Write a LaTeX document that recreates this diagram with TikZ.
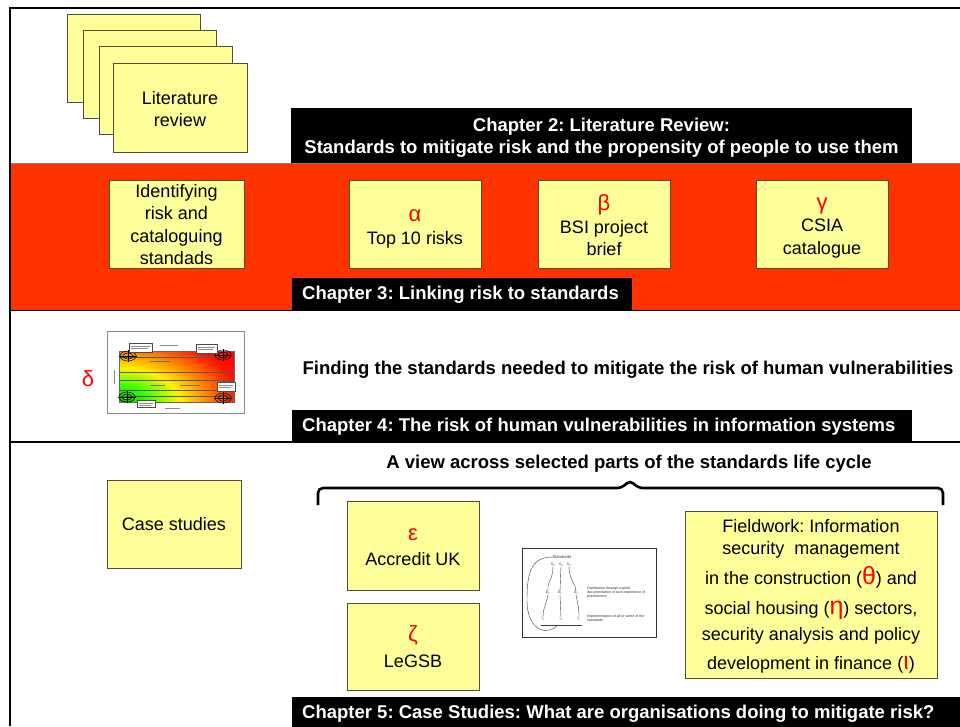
\documentclass[tikz,border=0pt]{standalone}
\usepackage{fontspec}
\setmainfont{Liberation Sans}
\definecolor{bandred}{HTML}{FF3300}
\definecolor{boxyellow}{HTML}{FFFF99}
\definecolor{boxedge}{HTML}{4F4F3A}
\definecolor{gkred}{HTML}{FF0000}
\definecolor{figedge}{HTML}{8A8A8A}
\newcommand{\gk}[2][22]{{\color{gkred}\fontsize{#1}{#1}\selectfont #2}}
% warm glow of the risk chart: green at the origin, red far from it
\pgfdeclareradialshading{riskglow}{\pgfpoint{0bp}{0bp}}{%
  color(0bp)=(green!75!black); color(5bp)=(green!75!yellow); color(10bp)=(yellow!90!orange);
  color(15bp)=(orange); color(20bp)=(red!85!orange); color(25bp)=(red); color(50bp)=(red)}
\begin{document}
\frenchspacing
\begin{tikzpicture}[x=1pt,y=-1pt,
  ybox/.style={draw=boxedge, line width=1.1pt, fill=boxyellow, inner sep=0pt,
    align=center, anchor=north west, font=\fontsize{18}{22.5}\selectfont},
  boxtext/.style={inner sep=0pt, align=center, font=\fontsize{18}{22.5}\selectfont},
  chapbar/.style={fill=black, inner sep=0pt, anchor=north west},
  chaptext/.style={text=white, inner sep=0pt, anchor=west,
    font=\fontsize{18.5}{22}\selectfont\bfseries},
  headline/.style={inner sep=0pt, font=\fontsize{18.5}{22}\selectfont\bfseries},
  figframe/.style={draw=figedge, line width=0.9pt, fill=white, inner sep=0pt, anchor=north west},
  tinytext/.style={inner sep=0pt, font=\fontsize{3.6}{4}\selectfont, text=black!80, align=left},
  target/.style={draw=black, line width=0.5pt},
  divider/.style={draw=black, line width=1.5pt}
]
\useasboundingbox (0,0) rectangle (960,726);
\fill[white] (0,0) rectangle (960,726);

% ---- section backgrounds and frame ----
\fill[bandred] (11,163.5) rectangle (960,310);
\draw[gray, line width=0.8pt] (11,163.5) -- (960,163.5);
\draw[divider] (11,310.5) -- (960,310.5);
\draw[divider] (11,442) -- (960,442);
\draw[line width=2.6pt] (10,726) -- (10,8) -- (960,8);

% ---- Chapter 2 ----
\node[ybox, minimum width=133, minimum height=88] (lit1) at (67,14) {};
\node[ybox, minimum width=133, minimum height=88] (lit2) at (83,30) {};
\node[ybox, minimum width=133, minimum height=88] (lit3) at (99,46) {};
\node[ybox, minimum width=134, minimum height=89] (lit4) at (113,63) {};
\node[boxtext] (littext) at (180,109) {Literature\\review};
\node[chapbar, minimum width=621, minimum height=55] (ch2) at (291,108) {};
\node[chaptext, anchor=center, align=center] (ch2text) at (601.5,137.5)
  {Chapter 2: Literature Review:\\Standards to mitigate risk and the propensity of people to use them};

% ---- Chapter 3 ----
\node[ybox, minimum width=135, minimum height=88] (idrisk) at (109,180) {};
\node[boxtext] (idrisktext) at (176.5,224.5) {Identifying\\risk and\\cataloguing\\standads};
\node[ybox, minimum width=132, minimum height=88] (alpha) at (349,180) {};
\node[boxtext] (alphatext) at (415,229) {\gk{α}\\[1pt]Top 10 risks};
\node[ybox, minimum width=132, minimum height=88] (beta) at (538,180) {};
\node[boxtext] (betatext) at (604,225.5) {\gk{β}\\BSI project\\brief};
\node[ybox, minimum width=132, minimum height=88] (gamma) at (756,180) {};
\node[boxtext] (gammatext) at (822,228) {\gk{γ}\\CSIA\\catalogue};
\node[chapbar, minimum width=340, minimum height=32] (ch3) at (292,278) {};
\node[chaptext] (ch3text) at (302,295) {Chapter 3: Linking risk to standards};

% ---- Chapter 4 ----
\node[inner sep=0pt] (deltalabel) at (88,379) {\gk{δ}};
\node[figframe, minimum width=137, minimum height=82] (chart) at (107,331) {};
% risk chart inside the frame
\begin{scope}
  \clip (119,351) rectangle (234,402);
  \shade[shading=riskglow] (119,402) ellipse [x radius=150, y radius=85];
\end{scope}
\foreach \yy in {357,372,380,390,396}
  \draw[black!65, line width=0.35pt] (119,\yy) -- (234,\yy);
\draw[black!60, line width=0.3pt] (119,351) rectangle (234,402);
\foreach \cx/\cy in {128/356, 223/355, 127/397, 223/398}{
  \draw[target] (\cx,\cy) ellipse [x radius=8, y radius=5];
  \draw[target] (\cx,\cy) ellipse [x radius=5, y radius=3];
  \draw[target] (\cx-9,\cy) -- (\cx+9,\cy) (\cx,\cy-6) -- (\cx,\cy+6);
}
\foreach \x/\y/\w/\h in {129/343/23/9, 196/344/21/9, 217/382/18/9, 137/400/18/7}{
  \draw[black!70, fill=white, line width=0.3pt] (\x,\y) rectangle ++(\w,\h);
  \draw[black!45, line width=0.5pt] (\x+2,\y+3) -- (\x+\w-2,\y+3) (\x+2,\y+5.5) -- (\x+\w-4,\y+5.5);
}
\draw[black!45, line width=0.6pt] (160,345) -- (178,345);
\draw[black!45, line width=0.6pt] (165,408) -- (180,408);
\draw[black!45, line width=0.6pt] (114,370) -- (114,384);
\draw[black!55, line width=0.5pt] (150,361) -- (170,361) (150,385) -- (165,385) (180,385) -- (200,385);

\node[headline] (finding) at (628,370)
  {Finding the standards needed to mitigate the risk of human vulnerabilities};
\node[chapbar, minimum width=620, minimum height=32] (ch4) at (292,410) {};
\node[chaptext] (ch4text) at (302,427)
  {Chapter 4: The risk of human vulnerabilities in information systems};

% ---- Chapter 5 ----
\node[headline] (view) at (629,464)
  {A view across selected parts of the standards life cycle};
\draw[line width=2.6pt, rounded corners=5pt] (318,505) -- (318,488) -- (622,488)
  -- (630,480) -- (638,488) -- (943,488) -- (943,505);
\node[ybox, minimum width=134, minimum height=88] (cases) at (107,480) {};
\node[boxtext] (casestext) at (174,524) {Case studies};
\node[ybox, minimum width=132, minimum height=89] (accredit) at (347,501) {};
\node[boxtext] (accredittext) at (413,547) {\gk{ε}\\[3pt]Accredit UK};
\node[ybox, minimum width=132, minimum height=87] (legsb) at (347,603) {};
\node[boxtext] (legsbtext) at (413,646.5) {\gk{ζ}\\[4pt]LeGSB};

% standards life-cycle sketch
\node[figframe, draw=black!80, minimum width=134, minimum height=89] (stdfig) at (522,548) {};
\node[tinytext, font=\fontsize{4.2}{5}\selectfont] (stdname) at (562,557) {Standards};
\node[tinytext] (s1) at (553,564.5) {S\textsubscript{1}};
\node[tinytext] (s2) at (561,564.5) {S\textsubscript{2}};
\node[tinytext] (sn) at (569,564.5) {S\textsubscript{n}};
\node[tinytext] (d1) at (548,593) {D\textsubscript{1}};
\node[tinytext] (d2) at (560,593) {D\textsubscript{2}};
\node[tinytext] (dn) at (576,593) {D\textsubscript{n}};
\node[tinytext] (i1) at (543,619) {I\textsubscript{1}};
\node[tinytext] (i2) at (561,619) {I\textsubscript{2}};
\node[tinytext] (in) at (579,619) {I\textsubscript{n}};
\draw[black!75, line width=0.4pt] (s1.south) .. controls (553,580) and (546,584) .. (d1.north);
\draw[black!75, line width=0.4pt] (s2.south) -- (d2.north);
\draw[black!75, line width=0.4pt] (sn.south) .. controls (569,580) and (576,584) .. (dn.north);
\draw[black!75, line width=0.4pt] (d1.south) .. controls (546,605) and (543,608) .. (i1.north);
\draw[black!75, line width=0.4pt] (d2.south) -- (i2.north);
\draw[black!75, line width=0.4pt] (dn.south) .. controls (578,605) and (579,608) .. (in.north);
\coordinate (baseL) at (541,625);
\coordinate (baseR) at (582,625);
\draw[black!75, line width=0.4pt] (baseL) -- (baseR);
\coordinate (loopend) at (558,625);
\draw[black!75, line width=0.4pt] (stdname.west) .. controls (530,557) and (527,575) .. (527,600)
  .. controls (527,632) and (548,636) .. (loopend);
\node[tinytext, anchor=west] (distnote) at (587,593)
  {Distribution through explicit\\documentation or tacit experience of\\practitioners};
\node[tinytext, anchor=west] (implnote) at (587,618)
  {Implementation of all or some of the\\standards};

\node[ybox, minimum width=252, minimum height=167] (fieldwork) at (685,511) {};
\node[boxtext] (fieldtext) at (811,596)
  {Fieldwork: Information\\security\ \ management\\[7pt]
   in the construction (\gk[25]{θ}) and\\[8pt]
   social housing (\gk[25]{η}) sectors,\\[3pt]
   security analysis and policy\\[6.5pt]
   development in finance (\gk[25]{ι})};
\node[chapbar, minimum width=668, minimum height=34] (ch5) at (292,697) {};
\node[chaptext] (ch5text) at (302,714)
  {Chapter 5: Case Studies: What are organisations doing to mitigate risk?};
\end{tikzpicture}
\end{document}
